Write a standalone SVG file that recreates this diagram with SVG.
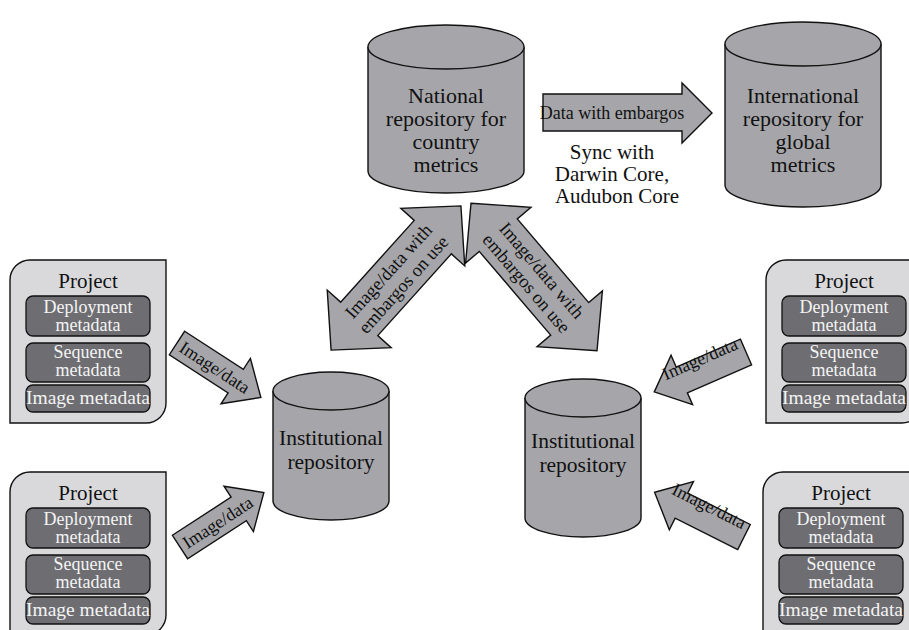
<svg xmlns="http://www.w3.org/2000/svg" width="909" height="630" viewBox="0 0 909 630">
<style>
.cyl{fill:#a6a6aa;stroke:#111;stroke-width:1.4}
.arr{fill:#a6a6aa;stroke:#111;stroke-width:1.4;stroke-linejoin:miter}
.proj{fill:#d9d9dc;stroke:#111;stroke-width:1.4}
.inner{fill:#6e6e72;stroke:#111;stroke-width:1.3}
text{font-family:"Liberation Serif","Times New Roman",serif;fill:#111;text-anchor:middle}
.ct{font-size:22px}
.ci{font-size:21.5px}
.pt{font-size:21px}
.it{font-size:18px;fill:#f4f4f4}
.im{font-size:19.5px;fill:#f4f4f4}
.at{font-size:18.5px}
.sa{font-size:18px}
.st{font-size:21px}
</style>
<defs>
<g id="projbox">
<path class="proj" d="M0,20 A20,20 0 0 1 20,0 H156 V143 A20,20 0 0 1 136,163 H0 Z"/>
<text class="pt" x="78" y="28">Project</text>
<rect class="inner" x="16" y="36" width="124" height="40" rx="7"/>
<text class="it" x="78" y="53">Deployment</text>
<text class="it" x="78" y="71">metadata</text>
<rect class="inner" x="16" y="83" width="124" height="39" rx="7"/>
<text class="it" x="78" y="98">Sequence</text>
<text class="it" x="78" y="116">metadata</text>
<rect class="inner" x="16" y="125" width="124" height="27" rx="7"/>
<text class="im" x="78" y="144">Image metadata</text>
</g>
<path id="dbl" class="arr" d="M-97,0 L-55,-43 L-55,-25 L55,-25 L55,-43 L97,0 L55,43 L55,25 L-55,25 L-55,43 Z"/>
<path id="sgl" class="arr" d="M0,-14 L70,-14 L70,-27 L100,0 L70,27 L70,14 L0,14 Z"/>
</defs>

<g id="connectors">
<g id="arrow-national-international">
<path class="arr" d="M543,94 H682 V83 L712,113 L682,143 V131 H543 Z"/>
<text x="612" y="119" style="font-size:18px">Data with embargos</text>
</g>
<g id="sync-label">
<text class="st" x="612" y="159">Sync with</text>
<text class="st" x="612" y="181">Darwin Core,</text>
<text class="st" x="617" y="203">Audubon Core</text>
</g>
<g id="arrow-left-institutional-national" transform="translate(396,278) rotate(-48)">
<use href="#dbl"/>
<text class="at" x="0" y="-4">Image/data with</text>
<text class="at" x="0" y="16">embargos on use</text>
</g>
<g id="arrow-right-institutional-national" transform="translate(534,277) rotate(49.5)">
<use href="#dbl"/>
<text class="at" x="0" y="-4">Image/data with</text>
<text class="at" x="0" y="16">embargos on use</text>
</g>
<g id="arrow-p1" transform="translate(177,343) rotate(33)">
<use href="#sgl"/>
<text class="sa" x="45" y="6">Image/data</text>
</g>
<g id="arrow-p2" transform="translate(180,547) rotate(-33)">
<use href="#sgl"/>
<text class="sa" x="45" y="6">Image/data</text>
</g>
<g id="arrow-p3" transform="translate(746,352) rotate(156.5)">
<use href="#sgl"/>
<text class="sa" x="45" y="-6" transform="rotate(180 45 0)">Image/data</text>
</g>
<g id="arrow-p4" transform="translate(744,537) rotate(206.6)">
<use href="#sgl"/>
<text class="sa" x="45" y="-6" transform="rotate(180 45 0)">Image/data</text>
</g>
</g>

<g id="national">
<path class="cyl" d="M368,47 V171 A78,22 0 0 0 524,171 V47"/>
<ellipse class="cyl" cx="446" cy="47" rx="78" ry="22"/>
<text class="ct" x="446" y="103">National</text>
<text class="ct" x="446" y="126">repository for</text>
<text class="ct" x="446" y="149">country</text>
<text class="ct" x="446" y="172">metrics</text>
</g>

<g id="international">
<path class="cyl" d="M725,44 V185 A78,22 0 0 0 881,185 V44"/>
<ellipse class="cyl" cx="803" cy="44" rx="78" ry="22"/>
<text class="ct" x="803" y="103">International</text>
<text class="ct" x="803" y="126">repository for</text>
<text class="ct" x="803" y="149">global</text>
<text class="ct" x="803" y="172">metrics</text>
</g>

<g id="institutional-left">
<path class="cyl" d="M273,391 V501 A58,19 0 0 0 389,501 V391"/>
<ellipse class="cyl" cx="331" cy="391" rx="58" ry="19"/>
<text class="ci" x="331" y="445">Institutional</text>
<text class="ci" x="331" y="469">repository</text>
</g>

<g id="institutional-right">
<path class="cyl" d="M525,398 V518 A58,19 0 0 0 641,518 V398"/>
<ellipse class="cyl" cx="583" cy="398" rx="58" ry="19"/>
<text class="ci" x="583" y="448">Institutional</text>
<text class="ci" x="583" y="472">repository</text>
</g>

<g id="project-top-left" transform="translate(10,260)"><use href="#projbox"/></g>
<g id="project-bottom-left" transform="translate(10,472)"><use href="#projbox"/></g>
<g id="project-top-right" transform="translate(766,260)"><use href="#projbox"/></g>
<g id="project-bottom-right" transform="translate(763,472)"><use href="#projbox"/></g>
</svg>
